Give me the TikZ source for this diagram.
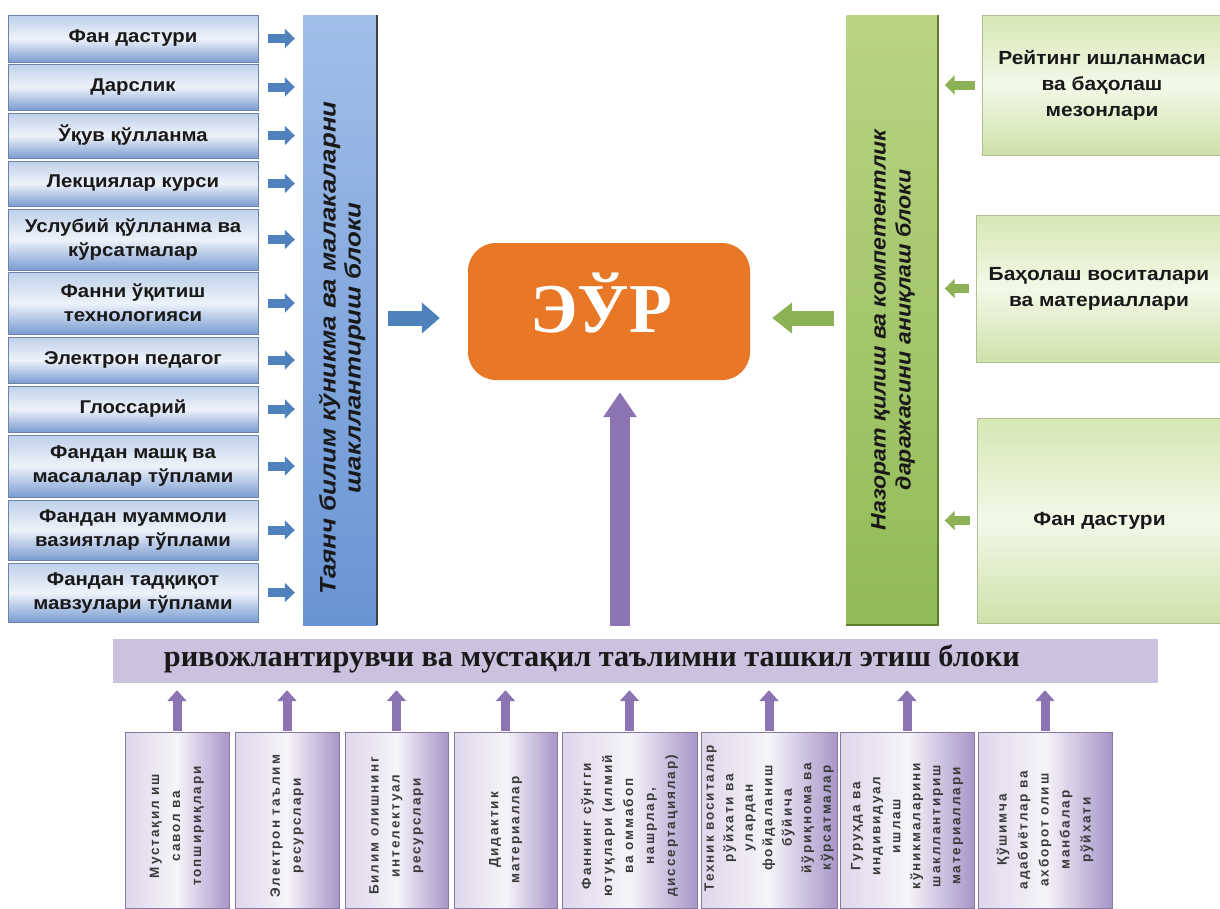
\documentclass[tikz,border=0pt]{standalone}
\usepackage{fontspec}
\setmainfont{Liberation Sans}
\newfontfamily\serifb{Liberation Serif}
\newfontfamily\boxf[LetterSpace=14]{Liberation Sans}
\newfontfamily\lfont[FakeStretch=1.1]{Liberation Sans}
\newfontfamily\vbfont[FakeStretch=1.15]{Liberation Sans}
\newfontfamily\vgfont[FakeStretch=1.1]{Liberation Sans}
\usetikzlibrary{arrows.meta,calc}
\definecolor{lbTop}{RGB}{190,208,234}
\definecolor{lbMid}{RGB}{238,243,250}
\definecolor{lbBot}{RGB}{122,156,210}
\definecolor{lbEdge}{RGB}{110,130,165}
\definecolor{barBa}{RGB}{160,190,232}
\definecolor{barBb}{RGB}{105,148,212}
\definecolor{arrB}{RGB}{79,129,189}
\definecolor{orng}{RGB}{232,119,38}
\definecolor{barGa}{RGB}{184,212,130}
\definecolor{barGb}{RGB}{146,186,86}
\definecolor{edgeG}{RGB}{95,125,45}
\definecolor{rgTop}{RGB}{214,232,180}
\definecolor{rgMid}{RGB}{243,248,232}
\definecolor{rgBot}{RGB}{206,226,170}
\definecolor{arrG}{RGB}{140,178,85}
\definecolor{pbarc}{RGB}{202,194,222}
\definecolor{pbL}{RGB}{222,214,234}
\definecolor{pbM}{RGB}{246,244,250}
\definecolor{pbR}{RGB}{168,150,200}
\definecolor{arrP}{RGB}{140,116,178}
\definecolor{txt}{RGB}{25,25,25}
\begin{document}
\begin{tikzpicture}[x=1pt,y=-1pt,
  lbox/.style={draw=lbEdge, top color=lbTop, bottom color=lbBot, middle color=lbMid,
    minimum width=250, inner sep=0pt, align=center, text=txt,
    font=\lfont\fontsize{18.5}{24}\selectfont\bfseries},
  rbox/.style={draw=edgeG!50, top color=rgTop, bottom color=rgBot, middle color=rgMid,
    inner sep=0pt, align=center, text=txt,
    font=\lfont\fontsize{19}{26}\selectfont\bfseries},
  bbox/.style={draw=pbR!80!black, left color=pbL, right color=pbR, middle color=pbM,
    minimum height=176, inner sep=0pt},
  btext/.style={rotate=90, align=center, text=txt!85,
    font=\boxf\fontsize{13.5}{21}\selectfont\bfseries},
  vtext/.style={rotate=90, align=center, text=txt},
  sarrB/.style={line width=9pt, draw=arrB, -{Triangle[width=19pt,length=10pt]},
    shorten <=10pt, shorten >=8pt},
  sarrG/.style={line width=9pt, draw=arrG, -{Triangle[width=19pt,length=10pt]},
    shorten <=7pt, shorten >=7pt},
  sarrP/.style={line width=9pt, draw=arrP, -{Triangle[width=19pt,length=11pt]},
    shorten <=1pt, shorten >=7pt}
]
\useasboundingbox (0,0) rectangle (1220,908);
\fill[white] (0,0) rectangle (1220,908);

% left column
\node[lbox, minimum height=47] (l1) at (133,38.5) {Фан дастури};
\node[lbox, minimum height=46] (l2) at (133,87) {Дарслик};
\node[lbox, minimum height=45] (l3) at (133,135.5) {Ўқув қўлланма};
\node[lbox, minimum height=45] (l4) at (133,183.5) {Лекциялар курси};
\node[lbox, minimum height=61] (l5) at (133,239.5) {Услубий қўлланма ва\\кўрсатмалар};
\node[lbox, minimum height=62] (l6) at (133,303) {Фанни ўқитиш\\технологияси};
\node[lbox, minimum height=46] (l7) at (133,360) {Электрон педагог};
\node[lbox, minimum height=46] (l8) at (133,409) {Глоссарий};
\node[lbox, minimum height=62] (l9) at (133,466) {Фандан машқ ва\\масалалар тўплами};
\node[lbox, minimum height=60] (l10) at (133,530) {Фандан муаммоли\\вазиятлар тўплами};
\node[lbox, minimum height=59] (l11) at (133,592.5) {Фандан тадқиқот\\мавзулари тўплами};

% blue bar
\node[draw=none, top color=barBa, bottom color=barBb, minimum width=74, minimum height=610, inner sep=0pt] (bar) at (340,320) {};
\draw[line width=2pt, black!75] (bar.north east) -- (bar.south east);
\node[vtext, font=\vbfont\fontsize{22.5}{25}\selectfont\bfseries\itshape] (bartxt) at (342,348) {Таянч билим кўникма ва малакаларни\\шакллантириш блоки};

\foreach \i in {1,...,11} {
  \draw[sarrB] (l\i.east) -- (l\i.east -| bar.west);
}

% centre
\node[fill=orng, rounded corners=28, minimum width=282, minimum height=137, inner sep=0pt] (eur) at (609,311.5) {};
\node[text=white, font=\serifb\fontsize{70}{72}\selectfont\bfseries, inner sep=0pt] (eurtxt) at (601,303) {ЭЎР};

% green bar
\node[draw=none, top color=barGa, bottom color=barGb, minimum width=91, minimum height=610, inner sep=0pt] (gbar) at (892,320) {};
\draw[line width=2pt, edgeG] (gbar.north east) -- (gbar.south east) -- (gbar.south west);
\node[vtext, font=\vgfont\fontsize{21}{25}\selectfont\bfseries\itshape] (gbartxt) at (893,330) {Назорат қилиш ва компетентлик\\даражасини аниқлаш блоки};

% right boxes
\node[rbox, minimum width=240, minimum height=140] (r1) at (1102,85) {Рейтинг ишланмаси\\ва баҳолаш\\мезонлари};
\node[rbox, minimum width=246, minimum height=147] (r2) at (1099,288.5) {Баҳолаш воситалари\\ва материаллари};
\node[rbox, minimum width=245, minimum height=205] (r3) at (1099.5,520.5) {Фан дастури};
\foreach \i in {1,2,3} {
  \draw[sarrG] (r\i.west) -- (r\i.west -| gbar.east);
}

% big arrows
\coordinate (ein) at (eur.west |- 0,318);
\coordinate (eingr) at (eur.east |- 0,318);
\draw[line width=15pt, draw=arrB, -{Triangle[width=30pt,length=18pt]}, shorten <=11pt, shorten >=28pt]
  (bar.east |- ein) -- (ein);
\draw[line width=15pt, draw=arrG, -{Triangle[width=30pt,length=20pt]}, shorten <=12pt, shorten >=22pt]
  (gbar.west |- eingr) -- (eingr);

% purple bar
\node[fill=pbarc, minimum width=1045, minimum height=44, inner sep=0pt] (pbar) at (635.5,661) {};
\node[font=\serifb\fontsize{30.3}{31}\selectfont\bfseries, text=txt] (pbartxt) at (592,659)
  {ривожлантирувчи ва мустақил таълимни ташкил этиш блоки};
\coordinate (esouth) at (eur.south -| 620,0);
\draw[line width=20pt, draw=arrP, -{Triangle[width=32pt,length=25pt]}, shorten <=13pt, shorten >=12pt]
  (pbar.north -| esouth) -- (esouth);

% bottom boxes
\node[bbox, minimum width=104] (b1) at (177,820) {};
\node[bbox, minimum width=104] (b2) at (287,820) {};
\node[bbox, minimum width=103] (b3) at (396.5,820) {};
\node[bbox, minimum width=103] (b4) at (505.5,820) {};
\node[bbox, minimum width=135] (b5) at (629.5,820) {};
\node[bbox, minimum width=136] (b6) at (769,820) {};
\node[bbox, minimum width=134] (b7) at (907,820) {};
\node[bbox, minimum width=134] (b8) at (1045,820) {};
\foreach \i in {1,...,8} {
  \draw[sarrP] (b\i.north) -- (b\i.north |- pbar.south);
}
\node[btext] (t1) at (b1.center |- 0,826) {Мустақил иш\\савол ва\\топшириқлари};
\node[btext] (t2) at (b2.center |- 0,826) {Электрон таълим\\ресурслари};
\node[btext] (t3) at (b3.center |- 0,826) {Билим олишнинг\\интелектуал\\ресурслари};
\node[btext] (t4) at (b4.center |- 0,830) {Дидактик\\материаллар};
\node[btext] (t5) at (b5.center |- 0,826) {Фаннинг сўнгги\\ютуқлари (илмий\\ва оммабоп\\нашрлар,\\диссертациялар)};
\node[btext, font=\boxf\fontsize{13.5}{19.5}\selectfont\bfseries] (t6) at (b6.center |- 0,818) {Техник воситалар\\рўйхати ва\\улардан\\фойдаланиш\\бўйича\\йўриқнома ва\\кўрсатмалар};
\node[btext, font=\boxf\fontsize{13.5}{20}\selectfont\bfseries] (t7) at (b7.center |- 0,826) {Гуруҳда ва\\индивидуал\\ишлаш\\кўникмаларини\\шакллантириш\\материаллари};
\node[btext] (t8) at (b8.center |- 0,830) {Қўшимча\\адабиётлар ва\\ахборот олиш\\манбалар\\рўйхати};
\end{tikzpicture}
\end{document}
